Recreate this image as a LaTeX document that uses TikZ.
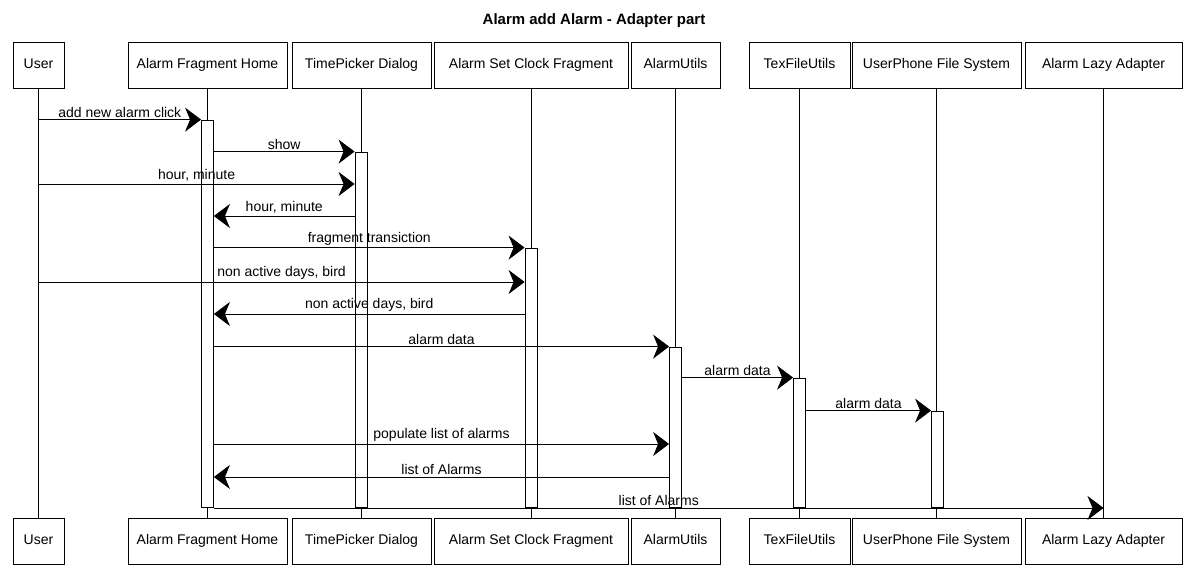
\documentclass[tikz,border=0pt]{standalone}
\usepackage{fontspec}
\setmainfont{Liberation Sans}
\usetikzlibrary{arrows.meta}
\tikzstyle{boxPart} = [rectangle, minimum height=46pt, text height=10pt, text depth=3pt, text centered, draw=black, fill=white, font=\fontsize{14}{16}\selectfont, line width=0.8pt]
\tikzstyle{actBar} = [rectangle, minimum width=12pt, inner sep=0pt, draw=black, fill=white, line width=0.8pt]
\tikzstyle{lifeLine} = [line width=0.6pt]
\tikzstyle{msg} = [line width=0.8pt, -{Stealth[length=16pt, width=24pt, inset=5pt]}]
\tikzstyle{msgText} = [above, midway, font=\fontsize{14}{16}\selectfont, inner sep=2pt]

\begin{document}
\begin{tikzpicture}[x=1pt, y=-1pt]

\useasboundingbox (0,0) rectangle (1187,583);

\node (title) at (594,21) {\fontsize{15}{17}\selectfont\textbf{Alarm add Alarm - Adapter part}};

% participants top
\node (user) [boxPart, minimum width=51pt] at (38.5,65) {User};
\node (home) [boxPart, minimum width=159pt] at (207.5,65) {Alarm Fragment Home};
\node (picker) [boxPart, minimum width=139pt] at (361.5,65) {TimePicker Dialog};
\node (clock) [boxPart, minimum width=194pt] at (531,65) {Alarm Set Clock Fragment};
\node (utils) [boxPart, minimum width=89pt] at (675.5,65) {AlarmUtils};
\node (textUtils) [boxPart, minimum width=101pt] at (799.5,65) {TexFileUtils};
\node (phoneFs) [boxPart, minimum width=169pt] at (936.5,65) {UserPhone File System};
\node (adapter) [boxPart, minimum width=157pt] at (1103.5,65) {Alarm Lazy Adapter};

% participants bottom
\node (userB) [boxPart, minimum width=51pt] at (38.5,541) {User};
\node (homeB) [boxPart, minimum width=159pt] at (207.5,541) {Alarm Fragment Home};
\node (pickerB) [boxPart, minimum width=139pt] at (361.5,541) {TimePicker Dialog};
\node (clockB) [boxPart, minimum width=194pt] at (531,541) {Alarm Set Clock Fragment};
\node (utilsB) [boxPart, minimum width=89pt] at (675.5,541) {AlarmUtils};
\node (textUtilsB) [boxPart, minimum width=101pt] at (799.5,541) {TexFileUtils};
\node (phoneFsB) [boxPart, minimum width=169pt] at (936.5,541) {UserPhone File System};
\node (adapterB) [boxPart, minimum width=157pt] at (1103.5,541) {Alarm Lazy Adapter};

% lifelines
\draw[lifeLine] (user.south) -- (userB.north);
\draw[lifeLine] (home.south) -- (homeB.north);
\draw[lifeLine] (picker.south) -- (pickerB.north);
\draw[lifeLine] (clock.south) -- (clockB.north);
\draw[lifeLine] (utils.south) -- (utilsB.north);
\draw[lifeLine] (textUtils.south) -- (textUtilsB.north);
\draw[lifeLine] (phoneFs.south) -- (phoneFsB.north);
\draw[lifeLine] (adapter.south) -- (adapterB.north);

% activations
\node (actHome) [actBar, minimum height=387pt] at (207.5,313.5) {};
\node (actPicker) [actBar, minimum height=355pt] at (361,329.5) {};
\node (actClock) [actBar, minimum height=259pt] at (531,377.5) {};
\node (actUtils) [actBar, minimum height=160pt] at (675.5,427) {};
\node (actText) [actBar, minimum height=129pt] at (799.5,442.5) {};
\node (actPhone) [actBar, minimum height=96pt] at (937.5,459) {};

% messages
\draw[msg] (user |- actHome.north) -- node[msgText] {add new alarm click} (actHome.north west);
\draw[msg] (actHome.east |- actPicker.north) -- node[msgText] {show} (actPicker.north west);
\draw[msg] (user |- 0,184) -- node[msgText] {hour, minute} (actPicker.west |- 0,184);
\draw[msg] (actPicker.west |- 0,216) -- node[msgText] {hour, minute} (actHome.east |- 0,216);
\draw[msg] (actHome.east |- actClock.north) -- node[msgText] {fragment transiction} (actClock.north west);
\draw[msg] (user |- 0,282) -- node[msgText] {non active days, bird} (actClock.west |- 0,282);
\draw[msg] (actClock.west |- 0,314) -- node[msgText] {non active days, bird} (actHome.east |- 0,314);
\draw[msg] (actHome.east |- actUtils.north) -- node[msgText] {alarm data} (actUtils.north west);
\draw[msg] (actUtils.east |- actText.north) -- node[msgText] {alarm data} (actText.north west);
\draw[msg] (actText.east |- actPhone.north) -- node[msgText] {alarm data} (actPhone.north west);
\draw[msg] (actHome.east |- 0,444) -- node[msgText] {populate list of alarms} (actUtils.west |- 0,444);
\draw[msg] (actUtils.west |- 0,477) -- node[msgText] {list of Alarms} (actHome.east |- 0,477);
\draw[msg] (actHome.east |- 0,508) -- node[msgText] {list of Alarms} (adapter |- 0,508);

\end{tikzpicture}
\end{document}
